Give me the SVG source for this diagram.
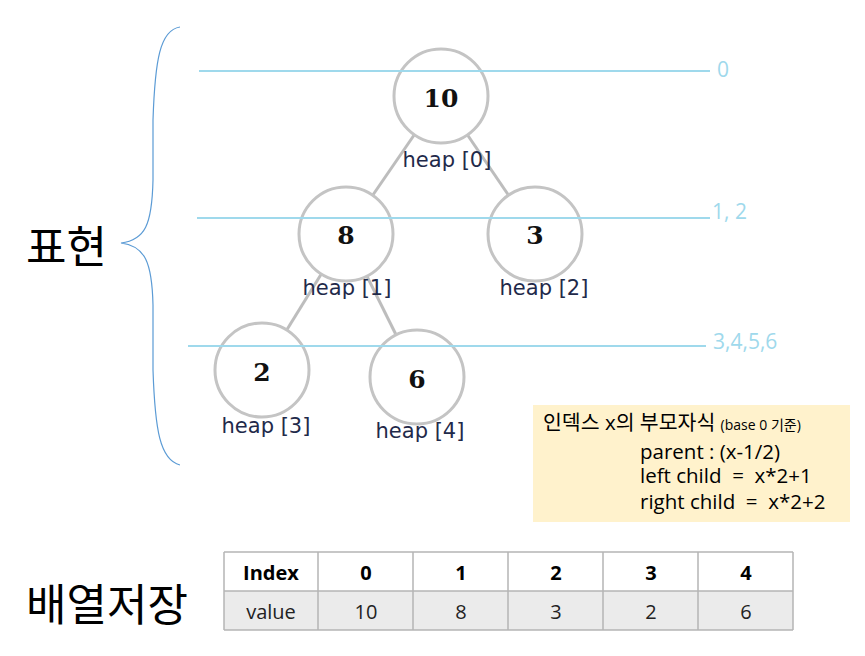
<svg xmlns="http://www.w3.org/2000/svg" width="865" height="656" viewBox="0 0 865 656">
<style>
.lvl{stroke:#9fd9ec;stroke-width:2;fill:none}
.lvlt{font-family:"Open Sans","DejaVu Sans",sans-serif;font-size:21px;fill:#9fd9ec}
.edge{stroke:#bdbdbd;stroke-width:3;fill:none}
.node circle{fill:#fff;stroke:#c4c4c4;stroke-width:3}
.num{font-family:"DejaVu Serif","Liberation Serif",serif;font-weight:bold;font-size:25px;fill:#111;text-anchor:middle}
.lab{font-family:"DejaVu Sans","Liberation Sans",sans-serif;font-size:21px;fill:#1f2a4a;text-anchor:middle}
.big{font-family:"Noto Sans CJK KR",sans-serif;font-size:44px;fill:#000}
.note{font-family:"Open Sans","Noto Sans CJK KR",sans-serif;font-size:20.5px;fill:#000}
.cell{stroke:#b5b5b5;stroke-width:1.5}
.th{font-family:"Open Sans","Noto Sans CJK KR",sans-serif;font-weight:bold;font-size:20px;fill:#000;text-anchor:middle}
.td{font-family:"Open Sans","Noto Sans CJK KR",sans-serif;font-size:20px;fill:#222;text-anchor:middle}
</style>
<rect width="865" height="656" fill="#fff"/>
<g id="connectors">
<line class="edge" x1="441" y1="96" x2="346" y2="234"/>
<line class="edge" x1="441" y1="96" x2="535" y2="234"/>
<line class="edge" x1="346" y1="234" x2="262" y2="370"/>
<line class="edge" x1="346" y1="234" x2="417" y2="377"/>
</g>
<g id="node0" class="node"><circle cx="441" cy="96" r="47"/><text class="num" x="441" y="107">10</text><text class="lab" x="447" y="167">heap [0]</text></g>
<g id="node1" class="node"><circle cx="346" cy="234" r="47"/><text class="num" x="346" y="244">8</text><text class="lab" x="347" y="295">heap [1]</text></g>
<g id="node2" class="node"><circle cx="535" cy="234" r="47"/><text class="num" x="535" y="244">3</text><text class="lab" x="544" y="295">heap [2]</text></g>
<g id="node3" class="node"><circle cx="262" cy="370" r="47"/><text class="num" x="262" y="381">2</text><text class="lab" x="266" y="433">heap [3]</text></g>
<g id="node4" class="node"><circle cx="417" cy="377" r="47"/><text class="num" x="417" y="388">6</text><text class="lab" x="420" y="438">heap [4]</text></g>
<g id="levels">
<line class="lvl" x1="199" y1="71" x2="710" y2="71"/>
<line class="lvl" x1="197" y1="218" x2="710" y2="218"/>
<line class="lvl" x1="188" y1="346" x2="706" y2="346"/>
<text class="lvlt" x="717" y="77">0</text>
<text class="lvlt" x="712" y="219">1, 2</text>
<text class="lvlt" x="713" y="349">3,4,5,6</text>
</g>
<g id="brace">
<path d="M180,27 C160,30 155,60 153,120 L153,180 C152,225 145,240 121,243 C145,246 152,262 153,305 L153,370 C155,430 160,460 180,465" fill="none" stroke="#5b9bd5" stroke-width="1.2"/>
<text class="big" x="26" y="263">표현</text>
</g>
<g id="note">
<rect x="533" y="405" width="317" height="117" fill="#fff2cc"/>
<text class="note" x="543" y="430">인덱스 x의 부모자식 <tspan font-size="14">(base 0 기준)</tspan></text>
<text class="note" x="640" y="459">parent : (x-1/2)</text>
<text class="note" x="640" y="483" xml:space="preserve">left child  =  x*2+1</text>
<text class="note" x="640" y="509" xml:space="preserve">right child  =  x*2+2</text>
</g>
<g id="array">
<text class="big" x="26" y="621">배열저장</text>
<rect x="224" y="552" width="569" height="39" fill="#fff"/>
<rect x="224" y="591" width="569" height="39" fill="#ebebeb"/>
<g class="cell">
<line x1="224" y1="552" x2="793" y2="552"/>
<line x1="224" y1="591" x2="793" y2="591"/>
<line x1="224" y1="630" x2="793" y2="630"/>
<line x1="224" y1="552" x2="224" y2="630"/>
<line x1="318" y1="552" x2="318" y2="630"/>
<line x1="413" y1="552" x2="413" y2="630"/>
<line x1="508" y1="552" x2="508" y2="630"/>
<line x1="603" y1="552" x2="603" y2="630"/>
<line x1="698" y1="552" x2="698" y2="630"/>
<line x1="793" y1="552" x2="793" y2="630"/>
</g>
<text class="th" x="271" y="580">Index</text>
<text class="th" x="366" y="580">0</text>
<text class="th" x="461" y="580">1</text>
<text class="th" x="556" y="580">2</text>
<text class="th" x="651" y="580">3</text>
<text class="th" x="746" y="580">4</text>
<text class="td" x="271" y="619">value</text>
<text class="td" x="366" y="619">10</text>
<text class="td" x="461" y="619">8</text>
<text class="td" x="556" y="619">3</text>
<text class="td" x="651" y="619">2</text>
<text class="td" x="746" y="619">6</text>
</g>
</svg>
